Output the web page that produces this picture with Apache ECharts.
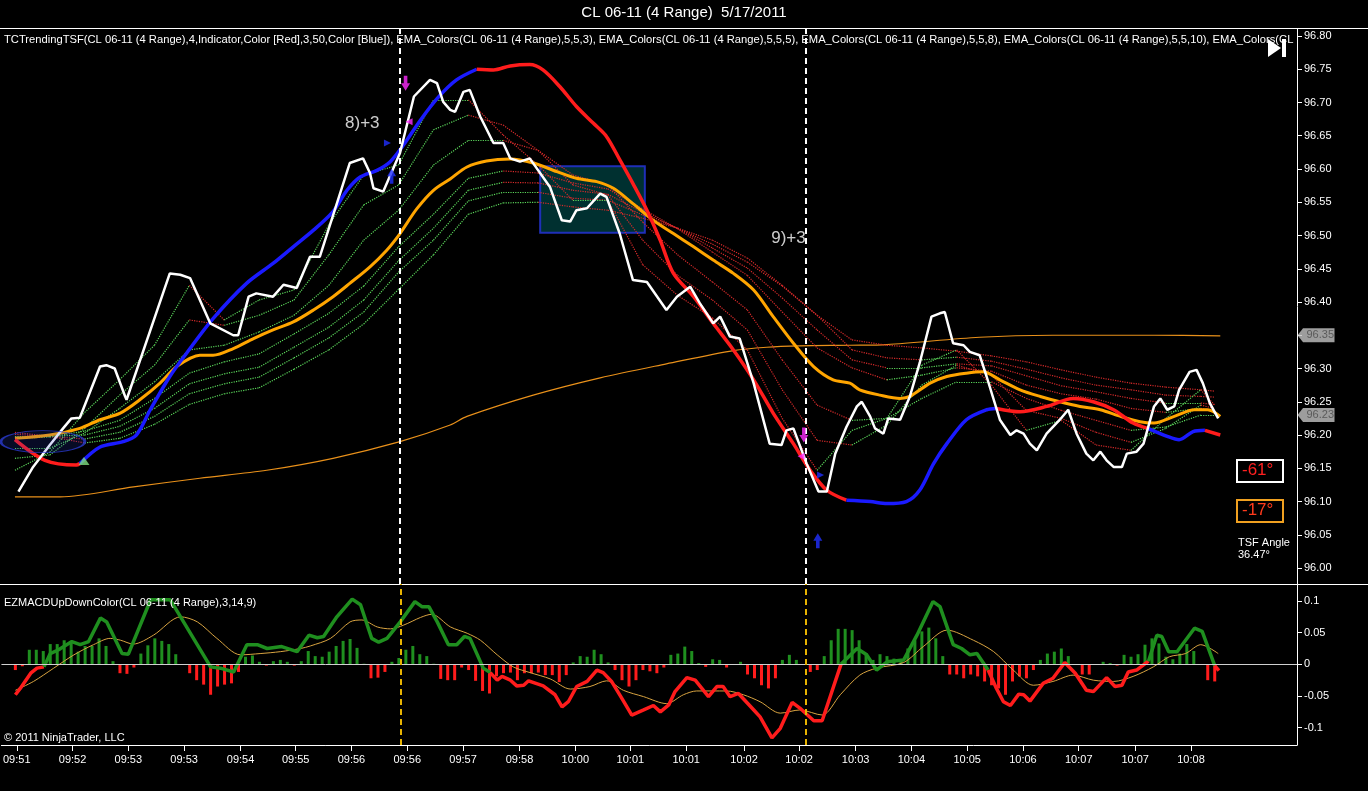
<!DOCTYPE html>
<html><head><meta charset="utf-8">
<script src="https://cdn.jsdelivr.net/npm/echarts@6/dist/echarts.min.js"></script>
<style>html,body{margin:0;padding:0;background:#000;}#c{width:1368px;height:791px;}</style>
</head><body><div id="c"></div>
<script>
// ---------------- DATA ----------------
const tickLabels = ["09:51","09:52","09:53","09:53","09:54","09:55","09:56","09:56","09:57","09:58","10:00","10:01","10:01","10:02","10:02","10:03","10:04","10:05","10:06","10:07","10:07","10:08"];
// bar position of each time label
const tickBars = [0.2,8.2,16.2,24.2,32.3,40.2,48.2,56.2,64.2,72.3,80.3,88.2,96.2,104.5,112.4,120.5,128.5,136.5,144.5,152.5,160.6,168.6];
const priceTicks = [96.00,96.05,96.10,96.15,96.20,96.25,96.30,96.35,96.40,96.45,96.50,96.55,96.60,96.65,96.70,96.75,96.80];
const macdTicks = [-0.1,-0.05,0,0.05,0.1];
const macdTickLabels = ["-0.1","-0.05","0","0.05","0.1"];

// close line [bar, price]
const priceClose = [[0.5,96.115],[2.6,96.152],[5.0,96.185],[6.9,96.210],[8.1,96.225],[9.3,96.226],[12.2,96.303],[13.1,96.305],[14.3,96.300],[15.8,96.258],[16.0,96.253],[22.2,96.443],[23.7,96.441],[25.1,96.436],[28.0,96.368],[31.3,96.350],[32.0,96.350],[33.5,96.408],[34.6,96.413],[37.0,96.408],[38.5,96.426],[40.4,96.421],[42.3,96.468],[43.7,96.468],[48.0,96.609],[49.9,96.616],[50.9,96.594],[51.4,96.571],[52.8,96.566],[55.2,96.624],[57.2,96.709],[59.5,96.734],[60.5,96.729],[61.4,96.701],[62.4,96.689],[63.1,96.686],[64.3,96.716],[65.2,96.719],[66.7,96.679],[68.6,96.639],[70.0,96.639],[71.0,96.616],[72.4,96.611],[73.8,96.616],[76.7,96.573],[78.4,96.523],[79.6,96.521],[80.5,96.538],[82.0,96.541],[83.9,96.563],[84.8,96.558],[86.7,96.503],[88.6,96.433],[90.6,96.430],[93.4,96.388],[94.9,96.408],[96.8,96.423],[98.2,96.398],[100.1,96.368],[101.1,96.378],[102.5,96.348],[103.9,96.345],[105.9,96.278],[108.2,96.187],[109.9,96.185],[110.6,96.207],[111.6,96.210],[113.5,96.157],[115.2,96.115],[116.4,96.115],[117.6,96.172],[119.2,96.212],[120.7,96.243],[121.4,96.250],[122.6,96.228],[123.3,96.210],[124.5,96.202],[125.2,96.225],[126.9,96.223],[128.3,96.258],[129.7,96.308],[131.4,96.378],[132.6,96.383],[133.3,96.385],[134.5,96.338],[136.0,96.335],[136.9,96.325],[138.3,96.320],[139.3,96.288],[141.2,96.223],[142.7,96.200],[143.6,96.207],[144.6,96.202],[145.5,96.187],[146.5,96.177],[147.9,96.202],[149.8,96.223],[151.0,96.238],[152.2,96.202],[153.6,96.172],[154.6,96.162],[155.6,96.175],[156.5,96.162],[157.5,96.152],[158.7,96.152],[159.4,96.172],[160.8,96.175],[161.8,96.187],[163.3,96.243],[164.2,96.255],[165.2,96.238],[166.2,96.243],[166.9,96.268],[168.4,96.295],[169.4,96.298],[170.3,96.278],[171.3,96.248],[172.5,96.225]];

// TCTrendingTSF line [bar, price] and its colour changes [fromBar, direction]
const tsfLine = [[0,96.193],[4.3,96.162],[8.8,96.155],[9.3,96.157],[12.2,96.182],[15.5,96.190],[17.4,96.200],[19.4,96.238],[22.2,96.288],[24.6,96.323],[28.4,96.375],[33.2,96.428],[37.0,96.458],[39.9,96.483],[42.8,96.508],[45.6,96.536],[47.6,96.568],[49.5,96.588],[51.9,96.598],[53.8,96.611],[55.7,96.636],[58.1,96.673],[60.7,96.708],[63.3,96.734],[66.2,96.750],[68.6,96.749],[71.0,96.755],[73.8,96.757],[75.7,96.749],[78.1,96.724],[80.5,96.694],[82.9,96.669],[84.8,96.649],[86.7,96.614],[88.6,96.578],[90.6,96.538],[92.5,96.493],[94.4,96.443],[97.3,96.408],[100.1,96.368],[103.0,96.328],[105.9,96.283],[108.7,96.233],[111.6,96.187],[114.0,96.147],[116.4,96.117],[119.2,96.102],[122.6,96.100],[125.0,96.097],[127.8,96.100],[129.7,96.117],[131.7,96.157],[133.6,96.187],[136.4,96.223],[139.3,96.238],[140.7,96.240],[144.1,96.235],[147.9,96.243],[151.7,96.255],[154.6,96.250],[157.5,96.238],[160.3,96.218],[162.4,96.210],[165.2,96.198],[166.9,96.193],[168.9,96.205],[170.6,96.207],[172.8,96.200]];
const tsfTrend = [[0,"down"],[9.3,"up"],[66.2,"down"],[119.2,"up"],[140.7,"down"],[162.4,"up"],[170.6,"down"]];

// thick orange EMA [bar, price]
const emaOrange = [[0,96.195],[5.0,96.200],[9.3,96.210],[12.2,96.223],[15.1,96.233],[17.9,96.253],[20.8,96.278],[23.2,96.303],[26.5,96.320],[28.4,96.320],[31.3,96.330],[34.2,96.345],[37.0,96.358],[39.9,96.370],[42.8,96.388],[45.6,96.408],[48.0,96.428],[50.9,96.453],[53.3,96.478],[55.2,96.503],[57.6,96.540],[60.0,96.568],[62.4,96.585],[64.8,96.603],[67.6,96.612],[71.0,96.615],[74.3,96.609],[77.7,96.596],[80.5,96.586],[83.4,96.581],[85.8,96.571],[88.6,96.548],[91.5,96.523],[94.4,96.503],[97.3,96.483],[100.1,96.463],[103.0,96.443],[105.9,96.418],[108.7,96.378],[111.6,96.338],[114.5,96.303],[117.3,96.283],[119.7,96.278],[121.1,96.268],[124.0,96.260],[126.9,96.255],[128.3,96.258],[131.2,96.278],[133.6,96.288],[136.4,96.293],[138.8,96.295],[141.2,96.283],[144.1,96.268],[147.0,96.258],[149.8,96.250],[152.7,96.243],[155.6,96.238],[158.5,96.228],[161.3,96.220],[163.3,96.218],[166.2,96.228],[169.1,96.238],[171.0,96.238],[172.8,96.228]];

// thin slow orange average [bar, price]
const slowAvg = [[0,96.107],[6.5,96.107],[17.0,96.122],[26.5,96.135],[36.1,96.147],[45.6,96.165],[55.2,96.190],[62.4,96.215],[64.8,96.228],[74.3,96.260],[83.9,96.286],[93.4,96.307],[103.0,96.327],[107.8,96.332],[112.5,96.334],[119.7,96.335],[125.0,96.336],[138.3,96.347],[148.8,96.350],[163.3,96.350],[172.8,96.349]];

// EMA_Colors ribbon lines, read at these bars
const ribbonBars = [0,5,10,15,20,25,30,35,40,45,50,55,60,65,70,75,80,85,90,95,100,105,110,115,120,125,130,135,140,145,150,155,160,165,170,172];
const ribbonF1 = [96.147,96.174,96.234,96.283,96.335,96.425,96.373,96.403,96.418,96.516,96.591,96.606,96.704,96.704,96.651,96.606,96.553,96.553,96.456,96.410,96.376,96.328,96.225,96.147,96.207,96.225,96.305,96.328,96.275,96.207,96.222,96.185,96.177,96.225,96.268,96.245];
const ribbonF2 = [96.165,96.170,96.210,96.260,96.305,96.373,96.365,96.380,96.403,96.471,96.546,96.576,96.659,96.681,96.666,96.628,96.576,96.561,96.493,96.440,96.403,96.358,96.268,96.192,96.185,96.215,96.275,96.305,96.290,96.237,96.225,96.204,96.189,96.210,96.245,96.240];
const ribbonF3 = [96.180,96.180,96.203,96.240,96.280,96.328,96.335,96.355,96.380,96.425,96.493,96.538,96.606,96.643,96.643,96.628,96.591,96.576,96.520,96.471,96.430,96.388,96.313,96.245,96.222,96.225,96.255,96.280,96.280,96.255,96.237,96.222,96.207,96.212,96.230,96.230];
const ribbonS1 = [96.195,96.197,96.206,96.222,96.255,96.293,96.310,96.322,96.352,96.383,96.424,96.483,96.532,96.586,96.597,96.594,96.579,96.570,96.540,96.510,96.475,96.440,96.385,96.331,96.301,96.283,96.290,96.301,96.296,96.275,96.262,96.254,96.240,96.234,96.240,96.237];
const ribbonS2 = [96.198,96.198,96.200,96.213,96.240,96.277,96.292,96.302,96.332,96.362,96.403,96.462,96.511,96.568,96.580,96.579,96.568,96.562,96.535,96.511,96.481,96.451,96.406,96.358,96.313,96.301,96.301,96.307,96.304,96.289,96.274,96.265,96.255,96.248,96.248,96.246];
const ribbonS3 = [96.201,96.198,96.194,96.204,96.228,96.262,96.277,96.287,96.316,96.346,96.385,96.445,96.493,96.552,96.565,96.565,96.556,96.553,96.531,96.511,96.487,96.460,96.424,96.380,96.328,96.316,96.313,96.317,96.311,96.299,96.286,96.275,96.268,96.260,96.258,96.257];
const ribbonS4 = [96.204,96.198,96.188,96.195,96.216,96.246,96.262,96.271,96.299,96.328,96.367,96.419,96.471,96.532,96.549,96.550,96.543,96.538,96.526,96.511,96.493,96.466,96.425,96.380,96.343,96.335,96.331,96.326,96.319,96.310,96.298,96.287,96.278,96.272,96.268,96.266];

// MACD
const macdLine = [[0,-0.048],[0.7,-0.038],[2.2,-0.014],[3.1,-0.006],[4.1,-0.004],[5.0,0.017],[6.2,0.023],[8.1,0.036],[9.3,0.031],[10.5,0.036],[12.2,0.073],[13.1,0.067],[15.3,0.017],[16.2,0.016],[19.4,0.102],[22.2,0.102],[28.0,-0.004],[29.4,-0.006],[31.3,-0.012],[33.2,0.031],[34.7,0.031],[36.1,0.025],[38.2,0.028],[40.4,0.020],[42.1,0.046],[43.3,0.042],[44.2,0.044],[46.1,0.075],[48.3,0.103],[49.5,0.094],[51.1,0.041],[52.1,0.035],[53.3,0.041],[55.2,0.067],[57.3,0.099],[58.3,0.091],[59.3,0.091],[60.5,0.067],[62.1,0.031],[63.3,0.031],[64.4,0.044],[65.2,0.041],[67.1,-0.006],[68.1,-0.013],[69.1,-0.025],[69.8,-0.019],[71.0,-0.025],[71.9,-0.034],[72.9,-0.033],[73.6,-0.026],[75.7,-0.034],[77.4,-0.048],[78.4,-0.067],[79.3,-0.059],[80.5,-0.035],[82.0,-0.027],[83.4,-0.009],[84.3,-0.013],[85.5,-0.027],[87.0,-0.054],[88.4,-0.080],[90.1,-0.072],[91.5,-0.065],[92.5,-0.075],[93.7,-0.064],[94.6,-0.043],[96.3,-0.021],[97.5,-0.025],[99.4,-0.051],[100.6,-0.035],[101.5,-0.035],[102.5,-0.051],[103.7,-0.046],[105.9,-0.072],[106.8,-0.083],[108.5,-0.116],[109.7,-0.101],[111.4,-0.060],[112.5,-0.069],[114.5,-0.089],[115.7,-0.089],[118.4,0.000],[120.7,0.025],[122.1,0.015],[123.5,-0.009],[125.0,0.004],[127.4,0.007],[129.3,0.046],[131.6,0.099],[132.6,0.091],[134.5,0.031],[135.7,0.025],[136.9,0.015],[137.9,0.017],[139.5,-0.009],[140.7,-0.038],[141.7,-0.059],[142.7,-0.065],[143.9,-0.047],[144.6,-0.048],[145.5,-0.058],[147.4,-0.030],[148.8,-0.022],[150.5,0.003],[152.0,-0.014],[153.6,-0.041],[154.6,-0.043],[156.5,-0.021],[157.7,-0.035],[158.7,-0.033],[159.6,-0.012],[160.8,-0.009],[162.5,0.005],[163.7,0.046],[164.4,0.044],[165.4,0.020],[166.6,0.020],[169.1,0.057],[170.2,0.052],[172.0,-0.002],[172.6,-0.010]];
const macdTrend = [[0,"down"],[4.1,"up"],[68.1,"down"],[118.4,"up"],[139.5,"down"],[162.5,"up"],[172.0,"down"]];
const macdSignal = [[0,-0.041],[2.6,-0.027],[5.5,-0.006],[8.4,0.015],[11.2,0.031],[13.6,0.041],[15.1,0.038],[16.9,0.032],[19.8,0.046],[23.7,0.075],[26.1,0.067],[28.9,0.041],[32.3,0.015],[35.1,0.017],[38.0,0.020],[40.9,0.025],[42.3,0.029],[45.2,0.041],[48.0,0.067],[49.7,0.070],[51.9,0.059],[53.8,0.056],[55.7,0.062],[58.1,0.074],[59.7,0.079],[62.4,0.059],[64.8,0.049],[66.7,0.038],[69.1,0.015],[71.4,-0.004],[73.8,-0.013],[76.7,-0.023],[79.6,-0.039],[82.4,-0.035],[84.8,-0.026],[87.2,-0.041],[90.1,-0.051],[93.4,-0.062],[95.8,-0.048],[97.7,-0.042],[102.0,-0.042],[104.4,-0.048],[106.8,-0.059],[109.7,-0.077],[112.5,-0.072],[115.7,-0.080],[118.3,-0.048],[121.1,-0.017],[123.5,-0.006],[127.4,0.003],[130.2,0.028],[133.6,0.054],[137.4,0.038],[140.3,0.020],[143.1,-0.009],[146.0,-0.033],[148.8,-0.027],[151.7,-0.017],[154.6,-0.025],[157.5,-0.027],[160.3,-0.019],[163.2,-0.004],[165.5,0.012],[167.8,0.017],[170.0,0.031],[172.5,0.017]];
const macdHist = [-0.009,-0.003,0.023,0.023,0.021,0.032,0.032,0.038,0.035,0.020,
0.029,0.029,0.041,0.029,0.005,-0.014,-0.015,-0.005,0.017,0.030,
0.041,0.037,0.032,0.016,0,-0.014,-0.025,-0.032,-0.048,-0.035,
-0.032,-0.030,-0.012,0.012,0.014,0.004,-0.002,0.005,0.007,0.004,
-0.002,0.005,0.021,0.013,0.012,0.020,0.029,0.037,0.040,0.026,
0.001,-0.022,-0.021,-0.012,0.004,0.010,0.023,0.029,0.016,0.013,
0.001,-0.023,-0.025,-0.025,-0.005,-0.009,-0.026,-0.042,-0.046,-0.019,
-0.014,-0.013,-0.025,-0.014,-0.014,-0.013,-0.017,-0.017,-0.028,-0.017,
0.003,0.013,0.012,0.023,0.016,0.003,-0.009,-0.025,-0.035,-0.025,
-0.009,-0.011,-0.014,-0.005,0.015,0.017,0.028,0.021,0.002,-0.004,
0.008,0.007,-0.005,-0.001,0.004,-0.016,-0.022,-0.033,-0.038,-0.022,
0.007,0.015,0.007,0,-0.012,-0.009,0.013,0.038,0.056,0.056,
0.054,0.038,0.017,0.007,0.016,0.013,0.009,0.007,0.025,0.038,
0.052,0.058,0.041,0.013,-0.016,-0.016,-0.022,-0.016,-0.019,-0.027,
-0.033,-0.038,-0.048,-0.027,-0.019,-0.022,-0.009,0.007,0.017,0.020,
0.025,0.013,0,-0.016,-0.016,0,0.004,0.002,-0.002,0.015,
0.012,0.016,0.031,0.041,0.033,0.012,0.008,0.017,0.032,0.021,
0,-0.025,-0.027];

// drawn objects / signals
const signalBars = [55.2, 113.4];
const annotations = [[49.8,96.668,"8)+3"],[110.9,96.496,"9)+3"]];
const arrowMarks = [[56.0,96.729,"down"],[56.5,96.671,"triLeft"],[53.4,96.639,"triRight"],[54.0,96.589,"up"],
                    [113.1,96.200,"down"],[112.7,96.168,"triLeft"],[115.5,96.140,"triRight"],[115.1,96.041,"up"],[9.9,96.161,"triUp"]];
const highlightBox = [[75.3,96.604],[90.3,96.504]];
const highlightEllipse = [4.0,96.190];
const priceTags = [96.35, 96.23];

// ---------------- CHART ----------------
const FONT = "Liberation Sans, Arial, sans-serif";
const X_MIN = -2.0, X_MAX = 183.8;
const GREEN = "#1f8f1f", RED = "#ff1c1c", BLUE = "#1a1aff";

function splitByTrend(points, trend) {
  const out = [];
  trend.forEach((t, k) => {
    const s = t[0], e = k + 1 < trend.length ? trend[k + 1][0] : Infinity;
    out.push({dir: t[1], pts: points.filter(p => p[0] >= s - 1e-9 && p[0] <= e + 1e-9)});
  });
  return out;
}

const ribbonSegs = [];
[ribbonS4, ribbonS3, ribbonS2, ribbonS1, ribbonF3, ribbonF2, ribbonF1].forEach(r => {
  for (let j = 0; j < r.length - 1; j++) {
    ribbonSegs.push({coords: [[ribbonBars[j], r[j]], [ribbonBars[j + 1], r[j + 1]]],
      lineStyle: {color: r[j + 1] >= r[j] ? "#5ad65a" : "#d62a2a"}});
  }
});
// axis labels hidden under a price tag
const priceLabelValues = priceTicks.filter(t => !priceTags.some(p => Math.abs(p - t) < 0.012));

const series = [];
series.push({type: "line", xAxisIndex: 0, yAxisIndex: 0, data: slowAvg, symbol: "none", smooth: 0.3,
  lineStyle: {color: "#e8901a", width: 1.2}, z: 1, silent: true});
series.push({type: "lines", coordinateSystem: "cartesian2d", xAxisIndex: 0, yAxisIndex: 0, data: ribbonSegs,
  lineStyle: {width: 1.2, type: "dotted", opacity: 1}, z: 2, silent: true});
series.push({type: "line", xAxisIndex: 0, yAxisIndex: 0, data: emaOrange, symbol: "none", smooth: 0.3,
  lineStyle: {color: "#ffa500", width: 3}, z: 3, silent: true});
splitByTrend(tsfLine, tsfTrend).forEach(s => series.push({type: "line", xAxisIndex: 0, yAxisIndex: 0,
  data: s.pts, symbol: "none", smooth: 0.3, lineStyle: {color: s.dir === "up" ? BLUE : RED, width: 3.5}, z: 4, silent: true}));
series.push({type: "line", xAxisIndex: 0, yAxisIndex: 0, data: priceClose, symbol: "none",
  lineStyle: {color: "#ffffff", width: 2.5}, z: 5, silent: true,
  markLine: {silent: true, symbol: "none", label: {show: false},
    lineStyle: {color: "#ffffff", width: 2, type: [6, 4]},
    data: signalBars.map(b => ({xAxis: b}))}});
// highlight ellipse + box
series.push({type: "scatter", xAxisIndex: 0, yAxisIndex: 0, data: [highlightEllipse], symbol: "circle",
  symbolSize: [84, 22], itemStyle: {color: "rgba(40,60,210,0.22)", borderColor: "#2a3bd0", borderWidth: 1.5},
  z: 6, silent: true,
  markArea: {silent: true, itemStyle: {color: "rgba(0,150,150,0.32)", borderColor: "#1f2fb8", borderWidth: 2},
    data: [[{coord: highlightBox[0]}, {coord: highlightBox[1]}]]}});
// arrows and triangles
const arrowPath = "path://M3,0 L7,0 L7,7 L10,7 L5,14 L0,7 L3,7 Z";
series.push({type: "scatter", xAxisIndex: 0, yAxisIndex: 0, z: 7, silent: true,
  data: arrowMarks.map(a => {
    const k = a[2];
    let o = {value: [a[0], a[1]]};
    if (k === "down") Object.assign(o, {symbol: arrowPath, symbolSize: [9, 15], itemStyle: {color: "#ff2bff"}});
    if (k === "up") Object.assign(o, {symbol: arrowPath, symbolSize: [9, 15], symbolRotate: 180, itemStyle: {color: "#2030ff"}});
    if (k === "triLeft") Object.assign(o, {symbol: "triangle", symbolSize: [7, 7], symbolRotate: 90, itemStyle: {color: "#ff2bff"}});
    if (k === "triRight") Object.assign(o, {symbol: "triangle", symbolSize: [7, 7], symbolRotate: -90, itemStyle: {color: "#2030ff"}});
    if (k === "triUp") Object.assign(o, {symbol: "triangle", symbolSize: [11, 8], itemStyle: {color: "#7fe07f"}});
    return o;
  })});
// annotation texts
series.push({type: "scatter", xAxisIndex: 0, yAxisIndex: 0, z: 8, silent: true, symbolSize: 1,
  itemStyle: {color: "rgba(0,0,0,0)"},
  data: annotations.map(a => ({value: [a[0], a[1]], name: a[2]})),
  label: {show: true, position: "inside", formatter: p => p.name, color: "#ffffff", fontSize: 17, fontFamily: FONT}});
// price tags at right axis
series.push({type: "scatter", xAxisIndex: 0, yAxisIndex: 0, zlevel: 1, z: 20, silent: true, clip: false,
  symbol: "path://M0,7 L6,0 L40,0 L40,14 L6,14 Z", symbolSize: [37, 14], symbolOffset: [19, 0],
  itemStyle: {color: "#c4c4c4"},
  data: priceTags.map(v => [X_MAX, v]),
  label: {show: true, position: [9, 1], align: "left", verticalAlign: "top",
    formatter: p => p.value[1].toFixed(2), color: "#4a4a4a", textBorderWidth: 0,
    fontSize: 11, fontFamily: FONT}});

// MACD panel
series.push({type: "bar", xAxisIndex: 1, yAxisIndex: 1, barWidth: 3, z: 2, silent: true,
  data: macdHist.map((v, i) => ({value: [i, v], itemStyle: {color: v >= 0 ? GREEN : RED}})),
  markLine: {silent: true, symbol: "none", label: {show: false},
    data: [{yAxis: 0, lineStyle: {color: "#d0d0d0", width: 1, type: "solid"}}]
      .concat(signalBars.map(b => ({xAxis: b, lineStyle: {color: "#e8b400", width: 2, type: [6, 4]}})))}});
series.push({type: "line", xAxisIndex: 1, yAxisIndex: 1, data: macdSignal, symbol: "none", smooth: 0.3,
  lineStyle: {color: "#d9a441", width: 1}, z: 3, silent: true});
splitByTrend(macdLine, macdTrend).forEach(s => series.push({type: "line", xAxisIndex: 1, yAxisIndex: 1,
  data: s.pts, symbol: "none", lineStyle: {color: s.dir === "up" ? GREEN : RED, width: 3.5}, z: 4, silent: true}));

const axisText = {color: "#ffffff", fontSize: 11, fontFamily: FONT};
const option = {
  backgroundColor: "#000000",
  animation: false,
  grid: [
    {left: 1, width: 1296, top: 29, height: 555},
    {left: 1, width: 1296, top: 584, height: 161}
  ],
  xAxis: [
    {type: "value", gridIndex: 0, min: X_MIN, max: X_MAX, show: false},
    {type: "value", gridIndex: 1, min: X_MIN, max: X_MAX,
      axisLine: {show: true, onZero: false, lineStyle: {color: "#ffffff", width: 1}},
      axisTick: {show: true, length: 6, customValues: tickBars, lineStyle: {color: "#ffffff"}},
      axisLabel: Object.assign({customValues: tickBars, margin: 9,
        formatter: v => tickLabels[tickBars.findIndex(t => Math.abs(t - v) < 1e-6)]}, axisText),
      splitLine: {show: false}}
  ],
  yAxis: [
    {type: "value", gridIndex: 0, position: "right", min: 95.976, max: 96.8105,
      axisLine: {show: true, onZero: false, lineStyle: {color: "#ffffff", width: 1}},
      axisTick: {show: true, length: 5, customValues: priceTicks, lineStyle: {color: "#ffffff"}},
      axisLabel: Object.assign({customValues: priceLabelValues, margin: 7, formatter: v => v.toFixed(2)}, axisText),
      splitLine: {show: false}},
    {type: "value", gridIndex: 1, position: "right", min: -0.1273, max: 0.1268,
      axisLine: {show: true, onZero: false, lineStyle: {color: "#ffffff", width: 1}},
      axisTick: {show: true, length: 5, customValues: macdTicks, lineStyle: {color: "#ffffff"}},
      axisLabel: Object.assign({customValues: macdTicks, margin: 7,
        formatter: v => macdTickLabels[macdTicks.findIndex(t => Math.abs(t - v) < 1e-9)]}, axisText),
      splitLine: {show: false}}
  ],
  graphic: [
    {type: "text", left: "center", top: 5, style: {text: "CL 06-11 (4 Range)  5/17/2011", fill: "#ffffff",
      font: "15px " + FONT}},
    {type: "line", shape: {x1: 0, y1: 28.5, x2: 1368, y2: 28.5}, style: {stroke: "#ffffff", lineWidth: 1}},
    {type: "line", shape: {x1: 0, y1: 584.5, x2: 1368, y2: 584.5}, style: {stroke: "#ffffff", lineWidth: 1}},
    {type: "text", x: 4, y: 34, z: 10, style: {text: "TCTrendingTSF(CL 06-11 (4 Range),4,Indicator,Color [Red],3,50,Color [Blue]), EMA_Colors(CL 06-11 (4 Range),5,5,3), EMA_Colors(CL 06-11 (4 Range),5,5,5), EMA_Colors(CL 06-11 (4 Range),5,5,8), EMA_Colors(CL 06-11 (4 Range),5,5,10), EMA_Colors(CL 06-11 (4 Range),5,5,12)",
      fill: "#ffffff", font: "11.2px " + FONT, width: 1291, overflow: "truncate", ellipsis: ""}},
    {type: "polygon", z: 10, shape: {points: [[1268, 39], [1281, 48], [1268, 57]]}, style: {fill: "#ffffff"}},
    {type: "rect", z: 10, shape: {x: 1282, y: 39, width: 4, height: 18}, style: {fill: "#ffffff"}},
    {type: "text", x: 4, y: 597, z: 10, style: {text: "EZMACDUpDownColor(CL 06-11 (4 Range),3,14,9)", fill: "#ffffff", font: "11px " + FONT}},
    {type: "text", x: 4, y: 732, z: 10, style: {text: "\u00a9 2011 NinjaTrader, LLC", fill: "#ffffff", font: "11px " + FONT}},
    {type: "rect", z: 10, shape: {x: 1237, y: 460, width: 46, height: 22}, style: {fill: "#000000", stroke: "#ffffff", lineWidth: 2}},
    {type: "text", z: 11, x: 1242, y: 462, style: {text: "-61\u00b0", fill: "#ff2020", font: "17px " + FONT}},
    {type: "rect", z: 10, shape: {x: 1237, y: 500, width: 46, height: 22}, style: {fill: "#000000", stroke: "#f0a020", lineWidth: 2}},
    {type: "text", z: 11, x: 1242, y: 502, style: {text: "-17\u00b0", fill: "#ff3a1c", font: "17px " + FONT}},
    {type: "text", z: 11, x: 1238, y: 537, style: {text: "TSF Angle\n36.47\u00b0", fill: "#ffffff", font: "11px " + FONT, lineHeight: 12}}
  ],
  series: series
};
const chart = echarts.init(document.getElementById("c"), null, {renderer: "canvas"});
chart.setOption(option);
</script></body></html>
